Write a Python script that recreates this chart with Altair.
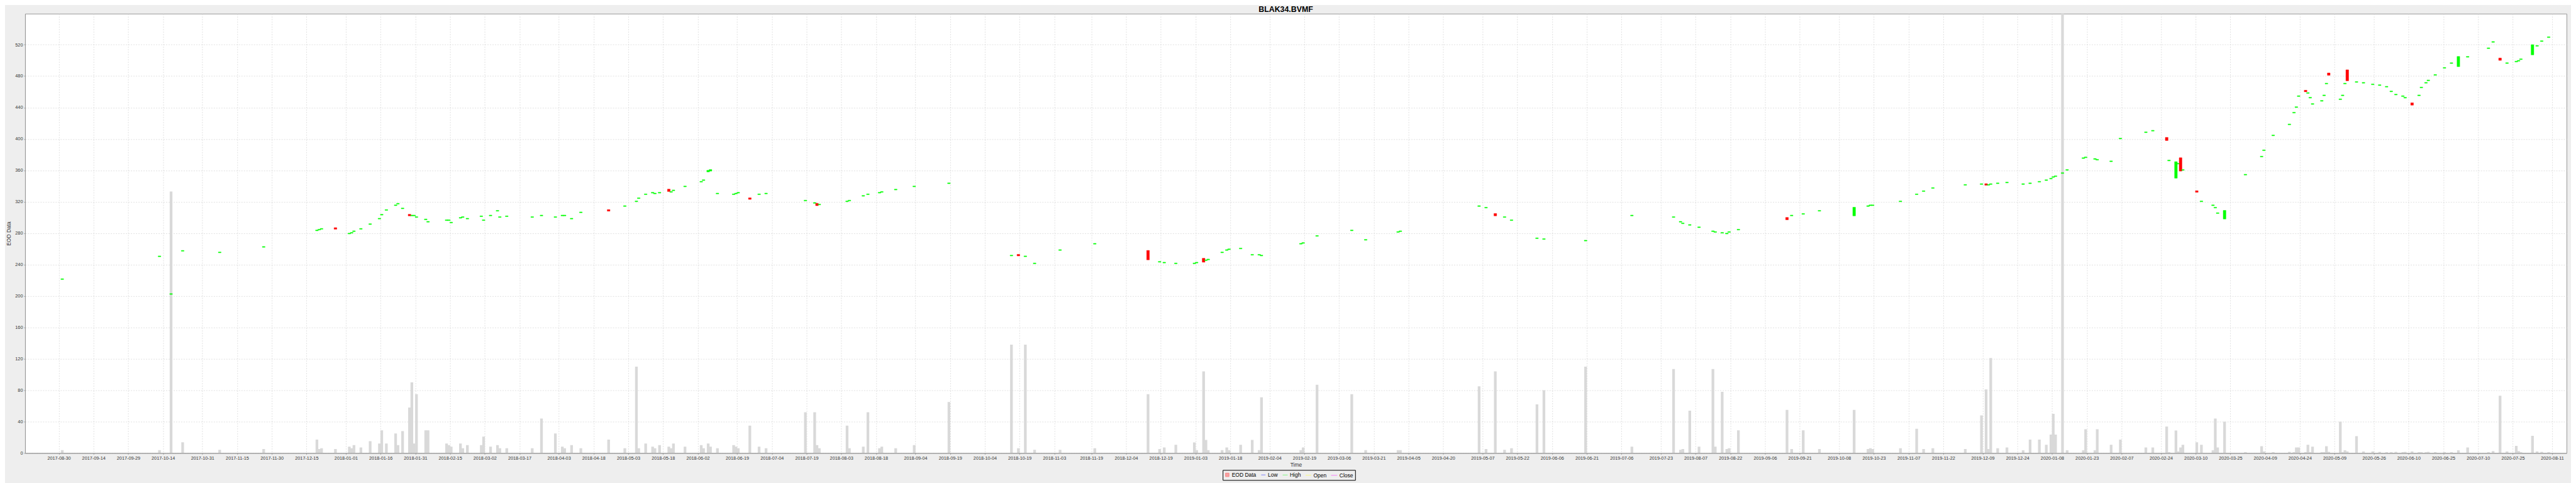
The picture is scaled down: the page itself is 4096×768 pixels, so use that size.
import altair as alt
import pandas as pd
import numpy as np

# ---------------- data ----------------
c_date = [
 "2017-09-01","2017-10-13","2017-10-18","2017-10-23","2017-11-08","2017-11-27","2017-12-20","2017-12-21",
 "2017-12-22","2017-12-28","2018-01-03","2018-01-04","2018-01-05","2018-01-08","2018-01-12","2018-01-16",
 "2018-01-17","2018-01-19","2018-01-23","2018-01-24","2018-01-26","2018-01-29","2018-01-30","2018-01-31",
 "2018-02-01","2018-02-05","2018-02-06","2018-02-14","2018-02-15","2018-02-16","2018-02-20","2018-02-21",
 "2018-02-23","2018-03-01","2018-03-02","2018-03-05","2018-03-08","2018-03-09","2018-03-12","2018-03-23",
 "2018-03-27","2018-04-02","2018-04-05","2018-04-06","2018-04-09","2018-04-13","2018-04-25","2018-05-02",
 "2018-05-07","2018-05-08","2018-05-11","2018-05-14","2018-05-15","2018-05-17","2018-05-21","2018-05-22",
 "2018-05-23","2018-05-28","2018-06-04","2018-06-05","2018-06-07","2018-06-08","2018-06-11","2018-06-18",
 "2018-06-19","2018-06-20","2018-06-25","2018-06-29","2018-07-02","2018-07-19","2018-07-23","2018-07-24",
 "2018-07-25","2018-08-06","2018-08-07","2018-08-13","2018-08-15","2018-08-20","2018-08-21","2018-08-27",
 "2018-09-04","2018-09-19","2018-10-16","2018-10-19","2018-10-22","2018-10-26","2018-11-06","2018-11-21",
 "2018-12-14","2018-12-19","2018-12-21","2018-12-26","2019-01-03","2019-01-04","2019-01-07","2019-01-08",
 "2019-01-09","2019-01-15","2019-01-17","2019-01-18","2019-01-23","2019-01-28","2019-01-31","2019-02-01",
 "2019-02-18","2019-02-19","2019-02-25","2019-03-12","2019-03-18","2019-04-01","2019-04-02","2019-05-06",
 "2019-05-09","2019-05-13","2019-05-17","2019-05-20","2019-05-31","2019-06-03","2019-06-21","2019-07-11",
 "2019-07-29","2019-08-01","2019-08-02","2019-08-05","2019-08-09","2019-08-15","2019-08-16","2019-08-19",
 "2019-08-21","2019-08-22","2019-08-26","2019-09-16","2019-09-18","2019-09-23","2019-09-30","2019-10-15",
 "2019-10-21","2019-10-22","2019-10-23","2019-11-04","2019-11-11","2019-11-14","2019-11-18","2019-12-02",
 "2019-12-09","2019-12-11","2019-12-12","2019-12-13","2019-12-16","2019-12-20","2019-12-27","2019-12-30",
 "2020-01-03","2020-01-06","2020-01-08","2020-01-09","2020-01-10","2020-01-13","2020-01-15","2020-01-22",
 "2020-01-23","2020-01-27","2020-01-28","2020-02-03","2020-02-07","2020-02-18","2020-02-21","2020-02-27",
 "2020-02-28","2020-03-02","2020-03-03","2020-03-04","2020-03-05","2020-03-11","2020-03-13","2020-03-18",
 "2020-03-19","2020-03-20","2020-03-23","2020-04-01","2020-04-08","2020-04-09","2020-04-13","2020-04-20",
 "2020-04-22","2020-04-23","2020-04-24","2020-04-27","2020-04-28","2020-04-29","2020-04-30","2020-05-04",
 "2020-05-05","2020-05-06","2020-05-07","2020-05-12","2020-05-13","2020-05-14","2020-05-15","2020-05-19",
 "2020-05-22","2020-05-26","2020-05-29","2020-06-01","2020-06-03","2020-06-05","2020-06-08","2020-06-09",
 "2020-06-12","2020-06-15","2020-06-16","2020-06-18","2020-06-19","2020-06-22","2020-06-26","2020-06-29",
 "2020-07-02","2020-07-06","2020-07-15","2020-07-17","2020-07-20","2020-07-23","2020-07-27","2020-07-28",
 "2020-07-29","2020-08-03","2020-08-05","2020-08-07","2020-08-10"]
c_open = [
 221,250,202,257,255,262,283,284, 285,287,279,280,282,285,291,298,
 303,309,315,317,311,304,302,302, 300,297,294,296,296,293,299,300,
 298,301,296,302,308,300,301,300, 302,300,302,302,298,306,310,314,
 320,324,329,331,330,331,336,332, 334,339,345,347,358,359,330,329,
 330,331,325,329,330,321,318,318, 316,320,321,327,329,331,332,335,
 339,343,251,253,250,241,258,266, 258,243,242,241,241,242,248,245,
 246,255,258,259,260,252,252,251, 266,267,276,283,271,281,282,314,
 312,305,300,296,273,272,270,302, 300,294,292,290,287,282,281,280,
 279,281,284,300,302,304,308,302, 314,315,315,320,329,333,337,341,
 342,343,341,342,343,344,342,343, 345,347,349,351,352,356,360,375,
 376,374,373,371,400,408,410,402, 372,350,368,376,360,334,320,315,
 312,305,298,354,377,385,404,418, 433,440,454,462,458,452,444,448,
 455,470,484,450,455,470,488,472, 471,469,468,466,460,456,454,452,
 446,455,465,471,474,481,490,496, 492,504,515,523,503,496,498,499,
 501,507,518,524,529]
c_close = [
 222,251,203,258,256,263,284,285, 286,285,280,281,283,286,292,299,
 304,310,316,318,312,302,303,303, 301,298,295,297,297,294,300,301,
 299,302,297,303,309,301,302,301, 303,301,303,303,299,307,308,315,
 321,325,330,332,331,332,333,333, 335,340,346,348,360,361,331,330,
 331,332,323,330,331,322,319,315, 317,321,322,328,330,332,333,336,
 340,344,252,251,251,242,259,267, 246,244,243,242,242,243,243,246,
 247,256,259,260,261,253,253,252, 267,268,277,284,272,282,283,315,
 313,302,301,297,274,273,271,303, 301,295,293,291,288,283,282,281,
 280,282,285,297,303,305,309,313, 315,316,316,321,330,334,338,342,
 343,341,342,343,344,345,343,344, 346,348,350,352,353,357,361,376,
 377,375,374,372,401,409,411,398, 373,371,369,359,361,332,321,316,
 313,306,309,355,378,386,405,419, 434,441,455,460,459,453,445,449,
 456,471,481,451,456,471,474,473, 472,470,469,467,461,457,455,453,
 443,456,466,472,475,482,491,497, 505,505,516,524,500,497,499,500,
 502,520,519,525,530]
c_volume = [
 3.6,3.6,333,13.7,4,5,17,5, 6,5,8,6,10,7,15,12,
 29,12,25,10,28,58,90,12, 75,29,29,12,10,8,12,6,
 10,10,21,8,10,6,6,6, 44,25,8,6,10,6,17,6,
 110,6,12,8,6,10,8,6, 12,8,10,6,12,8,6,10,
 8,6,35,8,6,52,52,10, 6,35,6,8,52,6,8,6,
 10,65,138,6,138,4,4,6, 75,5,7,10.4,13.4,3.6,104,16.7,
 3.6,3.6,7,3.6,10.4,16.7,3.6,71, 3.6,7,87,75,3.6,3.6,3.6,85,
 5,104,4,6,62,80,110,8, 107,4,5,54,8,107,8,78,
 5,6,29,55,5,29,5,55, 5,6,5,6,31,5,6,5,
 48,81,5,121,6,7,3.4,17, 17,10.4,23.5,50,23.5,559.5,3.4,3.4,
 30.3,3.4,30.3,10.4,17,7,7,33.7, 1,28.8,2,7,10.4,13.7,10.4,3.4,
 44,7,40,1,8.7,2,1,1.5, 1,7,7,1,10.4,1,8,1,
 1,8.7,1.5,40,1,3.4,2,21.6, 2,2,1.5,1,1,1.5,1,1.5,
 2,1,1,1,1.5,1,1,1, 3.4,7,1,2.5,73,2,9,2.5,
 1,22,2,1.5,1]

x_tick_labels = ["2017-08-30","2017-09-14","2017-09-29","2017-10-14","2017-10-31","2017-11-15",
    "2017-11-30","2017-12-15","2018-01-01","2018-01-16","2018-01-31","2018-02-15","2018-03-02",
    "2018-03-17","2018-04-03","2018-04-18","2018-05-03","2018-05-18","2018-06-02","2018-06-19",
    "2018-07-04","2018-07-19","2018-08-03","2018-08-18","2018-09-04","2018-09-19","2018-10-04",
    "2018-10-19","2018-11-03","2018-11-19","2018-12-04","2018-12-19","2019-01-03","2019-01-18",
    "2019-02-04","2019-02-19","2019-03-06","2019-03-21","2019-04-05","2019-04-20","2019-05-07",
    "2019-05-22","2019-06-06","2019-06-21","2019-07-06","2019-07-23","2019-08-07","2019-08-22",
    "2019-09-06","2019-09-21","2019-10-08","2019-10-23","2019-11-07","2019-11-22","2019-12-09",
    "2019-12-24","2020-01-08","2020-01-23","2020-02-07","2020-02-24","2020-03-10","2020-03-25",
    "2020-04-09","2020-04-24","2020-05-09","2020-05-26","2020-06-10","2020-06-25","2020-07-10",
    "2020-07-25","2020-08-11"]
y_ticks = list(range(0, 560, 10))

legend_labels = ["EOD Data", "Low", "High", "Open", "Close"]
legend_colors = ["#FF5555", "#5555FF", "#55FF55", "#FFFF55", "#FF55FF"]
legend_shapes = ["square", "stroke", "stroke", "stroke", "stroke"]
legend_sizes = [30, 95, 95, 95, 95]

x_domain = ["2017-08-17T07:30:00", "2020-08-16T09:00:00"]
y_domain = [0, 559.5]

# ---------------- layout (0.711 of the reference) ----------------
W, H = 4049, 700
BODY_W = 4.3
FONT = "Liberation Sans"

def ms(s):
    return int(pd.Timestamp(s).value // 10**6)

tick_ms = [ms(d) + 12 * 3600 * 1000 for d in x_tick_labels]

candles = pd.DataFrame({"date": c_date, "open": c_open, "close": c_close, "volume": c_volume})
candles["dir"] = np.where(candles["close"] >= candles["open"], "up", "down")
leg = pd.DataFrame({"series": legend_labels, "date": [x_domain[0]] * 5, "v": [-100] * 5})

xscale = alt.Scale(type="utc", domain=[ms(x_domain[0]), ms(x_domain[1])])
yscale = alt.Scale(domain=y_domain, nice=False, zero=False)

x_axis = alt.Axis(values=tick_ms, format="%Y-%m-%d", title="Time", labelAngle=0,
                  grid=True, tickSize=2, labelPadding=2, titlePadding=3,
                  labelFlush=False, labelOverlap=False)
y_axis = alt.Axis(values=y_ticks, title="EOD Data", grid=True, tickSize=2,
                  labelPadding=2, titlePadding=5, labelOverlap=False)

volume_bars = alt.Chart(candles).mark_bar(color="#D9D9D9", width=BODY_W, clip=True).encode(
    x=alt.X("date:T", scale=xscale, axis=x_axis),
    y=alt.Y("volume:Q", scale=yscale, axis=y_axis),
)

dir_color = alt.Color("dir:N", scale=alt.Scale(domain=["up", "down"], range=["#00FF00", "#FF0000"]),
                      legend=None)

bodies_fill = alt.Chart(candles).mark_bar(width=BODY_W, clip=True).encode(
    x=alt.X("date:T", scale=xscale),
    y=alt.Y("open:Q", scale=yscale),
    y2="close:Q",
    color=dir_color,
)
bodies_edge = alt.Chart(candles).mark_bar(width=BODY_W, filled=False, strokeWidth=0.5,
                                          clip=True).encode(
    x=alt.X("date:T", scale=xscale),
    y=alt.Y("open:Q", scale=yscale),
    y2="close:Q",
    color=dir_color,
)

legend_layer = alt.Chart(leg).mark_point(filled=True, clip=True, strokeWidth=1.2).encode(
    x=alt.X("date:T", scale=xscale),
    y=alt.Y("v:Q", scale=yscale),
    fill=alt.Fill("series:N", scale=alt.Scale(domain=legend_labels, range=legend_colors),
                  legend=alt.Legend(title=None, orient="none", legendX=1908, legendY=727,
                                    direction="horizontal", strokeColor="black",
                                    padding=3, labelFont=FONT, labelFontSize=8.5,
                                    labelColor="#000000", symbolStrokeWidth=1,
                                    columnPadding=4.5, labelOffset=3, cornerRadius=0)),
    stroke=alt.Stroke("series:N", scale=alt.Scale(domain=legend_labels, range=legend_colors)),
    shape=alt.Shape("series:N", scale=alt.Scale(domain=legend_labels, range=legend_shapes)),
    size=alt.Size("series:N", scale=alt.Scale(domain=legend_labels, range=legend_sizes)),
)

chart = alt.layer(volume_bars, bodies_fill, bodies_edge, legend_layer).properties(
    width=W, height=H,
    title=alt.TitleParams("BLAK34.BVMF", font=FONT, fontSize=12.4, fontWeight="bold",
                          color="#000000", anchor="middle", frame="group", dx=-16,
                          offset=0, baseline="top"),
    autosize=alt.AutoSizeParams(type="none"),
    padding={"left": 32, "top": 13, "right": 7, "bottom": 47},
    background="#EEEEEE",
).configure_view(
    fill="#FFFFFF", stroke="#999999", strokeWidth=1
).configure_axis(
    labelFont=FONT, labelFontSize=7.3, labelColor="#333333",
    titleFont=FONT, titleFontSize=8.5, titleColor="#333333", titleFontWeight="normal",
    gridColor="#D4D4D4", gridDash=[2, 2], gridWidth=0.7,
    domainColor="#999999", tickColor="#999999", domainWidth=1,
)

chart.save("out.html", embed_options={"renderer": "svg", "actions": False})
